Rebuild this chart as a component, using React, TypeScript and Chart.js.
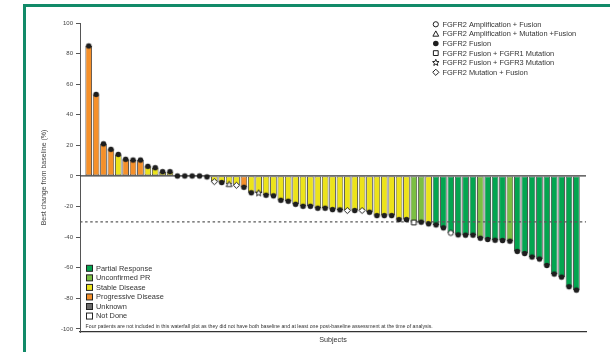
import React, { useEffect, useRef } from 'react';
import { Chart, registerables } from 'chart.js';

Chart.register(...registerables);

const FONT = "'Liberation Sans', Arial, Helvetica, sans-serif";

// Best % change from baseline, one value per subject (sorted waterfall)
const changeValues: number[] = [
  85, 53.3, 21, 17.4, 14.1, 10.9, 10.4, 10.4, 6.3, 5.4, 2.8, 2.8,
  0, 0, 0, 0, -0.6, -3.7, -4.3, -5.4, -6.1, -7.4,
  -11.0, -11.2, -12.6, -13, -15.9, -16.5,
  -18.5, -19.8, -19.8, -21.1, -21.1, -22,
  -22.2, -22.6, -22.6, -22.6,
  -23.7, -25.9, -25.9, -25.9, -28.5, -28.5,
  -30.4, -30.2, -31.3, -32, -33.9, -37.2,
  -38.5, -38.7, -38.7, -40.7, -41.5, -42, -42.2, -42.6,
  -49.3, -50.7, -53, -54.3, -58.5, -64.1, -66.1, -72.4, -74.6,
];

// Best overall response per subject
const responses: string[] = [
  'PD', 'PD', 'PD', 'PD', 'SD', 'PD', 'PD', 'PD', 'SD', 'SD', 'SD', 'SD',
  'SD', 'SD', 'SD', 'SD', 'SD', 'SD', 'SD', 'SD', 'SD', 'PD',
  'SD', 'SD', 'SD', 'SD', 'SD', 'SD',
  'SD', 'SD', 'SD', 'SD', 'SD', 'SD',
  'SD', 'SD', 'SD', 'SD',
  'SD', 'SD', 'SD', 'SD', 'SD', 'SD',
  'uPR', 'uPR', 'SD', 'PR', 'PR', 'PR',
  'PR', 'PR', 'PR', 'uPR', 'PR', 'PR', 'PR', 'uPR',
  'PR', 'PR', 'PR', 'PR', 'PR', 'PR', 'PR', 'PR', 'PR',
];

// FGFR alteration per subject
const alterations: string[] = [
  'F', 'F', 'F', 'F', 'F', 'F', 'F', 'F', 'F', 'F', 'F', 'F',
  'F', 'F', 'F', 'F', 'F', 'MF', 'F', 'AMF', 'MF', 'F',
  'F', 'F3', 'F', 'F', 'F', 'F',
  'F', 'F', 'F', 'F', 'F', 'F',
  'F', 'MF', 'F', 'MF',
  'F', 'F', 'F', 'F', 'F', 'F',
  'F1', 'F', 'F', 'F', 'F', 'AF',
  'F', 'F', 'F', 'F', 'F', 'F', 'F', 'F',
  'F', 'F', 'F', 'F', 'F', 'F', 'F', 'F', 'F',
];

const alterationKeys: string[] = ['AF', 'AMF', 'F', 'F1', 'F3', 'MF'];
const alterationLabels: string[] = [
  'FGFR2 Amplification + Fusion',
  'FGFR2 Amplification + Mutation +Fusion',
  'FGFR2 Fusion',
  'FGFR2 Fusion + FGFR1 Mutation',
  'FGFR2 Fusion + FGFR3 Mutation',
  'FGFR2 Mutation + Fusion',
];

const responseKeys: string[] = ['PR', 'uPR', 'SD', 'PD', 'UNK', 'ND'];
const responseLabels: string[] = [
  'Partial Response',
  'Unconfirmed PR',
  'Stable Disease',
  'Progressive Disease',
  'Unknown',
  'Not Done',
];
const responseColors: Record<string, string> = {
  PR: '#03a550',
  uPR: '#7bbf43',
  SD: '#ece31a',
  PD: '#f5902a',
  UNK: '#6b6b6b',
  ND: '#ffffff',
};

const yTicks: number[] = [100, 80, 60, 40, 20, 0, -20, -40, -60, -80, -100];
const responseThreshold = -30;
const footnote =
  'Four patients are not included in this waterfall plot as they did not have both baseline and at least one post-baseline assessment at the time of analysis.';

const X_MIN = -0.18;
const X_MAX = 68.3;

function drawMarker(ctx: CanvasRenderingContext2D, code: string, x: number, y: number) {
  ctx.save();
  ctx.lineWidth = 1;
  ctx.strokeStyle = '#1e1e1e';
  ctx.fillStyle = '#ffffff';
  ctx.beginPath();
  if (code === 'AF') {
    ctx.arc(x, y, 2.6, 0, Math.PI * 2);
    ctx.fill();
    ctx.stroke();
  } else if (code === 'AMF') {
    ctx.moveTo(x, y - 3);
    ctx.lineTo(x + 2.9, y + 2.3);
    ctx.lineTo(x - 2.9, y + 2.3);
    ctx.closePath();
    ctx.fill();
    ctx.stroke();
  } else if (code === 'F') {
    ctx.fillStyle = '#1e1e1e';
    ctx.arc(x, y, 2.8, 0, Math.PI * 2);
    ctx.fill();
  } else if (code === 'F1') {
    ctx.rect(x - 2.4, y - 2.4, 4.8, 4.8);
    ctx.fill();
    ctx.stroke();
  } else if (code === 'F3') {
    for (let k = 0; k < 10; k++) {
      const r = k % 2 === 0 ? 3.4 : 1.5;
      const a = -Math.PI / 2 + (k * Math.PI) / 5;
      const px = x + r * Math.cos(a);
      const py = y + r * Math.sin(a);
      if (k === 0) ctx.moveTo(px, py);
      else ctx.lineTo(px, py);
    }
    ctx.closePath();
    ctx.fill();
    ctx.stroke();
  } else if (code === 'MF') {
    ctx.moveTo(x, y - 3.1);
    ctx.lineTo(x + 3.1, y);
    ctx.lineTo(x, y + 3.1);
    ctx.lineTo(x - 3.1, y);
    ctx.closePath();
    ctx.fill();
    ctx.stroke();
  }
  ctx.restore();
}

function makeMarkerImage(code: string): HTMLCanvasElement {
  const c = document.createElement('canvas');
  c.width = 9;
  c.height = 9;
  const cctx = c.getContext('2d') as CanvasRenderingContext2D;
  drawMarker(cctx, code, 4.5, 4.5);
  return c;
}

const overlayPlugin = {
  id: 'overlayLegends',
  afterDraw(chart: any) {
    const ctx: CanvasRenderingContext2D = chart.ctx;
    const area = chart.chartArea;
    ctx.save();
    // alteration (marker) legend, top right
    ctx.font = `7.4px ${FONT}`;
    ctx.fillStyle = '#333333';
    ctx.textBaseline = 'middle';
    ctx.textAlign = 'left';
    alterationLabels.forEach((label, i) => {
      const y = area.top + 1.3 + i * 9.6;
      drawMarker(ctx, alterationKeys[i], area.right - 150.2, y);
      ctx.fillText(label, area.right - 143.4, y + 0.4);
    });
    // response legend, bottom left
    responseLabels.forEach((label, i) => {
      const y = area.top + 245.3 + i * 9.55;
      const bx = area.left + 6.5;
      ctx.fillStyle = responseColors[responseKeys[i]];
      ctx.fillRect(bx, y - 3, 6, 6);
      ctx.strokeStyle = '#222222';
      ctx.lineWidth = 1;
      ctx.strokeRect(bx, y - 3, 6, 6);
      ctx.fillStyle = '#333333';
      ctx.fillText(label, area.left + 16, y + 0.4);
    });
    // footnote
    ctx.font = `5.2px ${FONT}`;
    ctx.fillStyle = '#333333';
    ctx.fillText(footnote, area.left + 5.6, area.bottom - 5.4);
    ctx.restore();
  },
};

export default function App() {
  const canvasRef = useRef<HTMLCanvasElement | null>(null);

  useEffect(() => {
    const canvas = canvasRef.current;
    if (!canvas) return;
    Chart.defaults.font.family = FONT;

    const images: Record<string, HTMLCanvasElement> = {};
    alterationKeys.forEach((k) => {
      images[k] = makeMarkerImage(k);
    });

    const points = changeValues.map((v, i) => ({ x: i + 1, y: v }));

    const chart = new Chart(canvas, {
      type: 'bar',
      data: {
        datasets: [
          {
            type: 'scatter',
            label: 'markers',
            data: points,
            pointStyle: alterations.map((a) => images[a]) as any,
            pointRadius: 3,
            order: 0,
          } as any,
          {
            type: 'line',
            label: 'threshold',
            data: [
              { x: X_MIN, y: responseThreshold },
              { x: X_MAX, y: responseThreshold },
            ],
            borderColor: '#5a5a5a',
            borderWidth: 1.3,
            borderDash: [2.5, 2.6],
            pointRadius: 0,
            clip: 0,
            order: 1,
          } as any,
          {
            type: 'line',
            label: 'zero',
            data: [
              { x: X_MIN, y: 0 },
              { x: X_MAX, y: 0 },
            ],
            borderColor: '#3a3a3a',
            borderWidth: 1.2,
            pointRadius: 0,
            clip: 0,
            order: 1,
          } as any,
          {
            type: 'bar',
            label: 'change',
            data: points,
            backgroundColor: responses.map((r) => responseColors[r]),
            borderColor: '#3c3c3c',
            borderWidth: 0.9,
            borderSkipped: false,
            barPercentage: 0.9,
            categoryPercentage: 1,
            order: 2,
          } as any,
        ],
      },
      options: {
        animation: false,
        responsive: false,
        maintainAspectRatio: false,
        devicePixelRatio: 1,
        layout: { padding: { left: 0, right: 24, top: 23, bottom: 0 } },
        plugins: {
          legend: { display: false },
          tooltip: { enabled: false },
          title: { display: false },
        },
        scales: {
          x: {
            type: 'linear',
            min: X_MIN,
            max: X_MAX,
            offset: false,
            afterBuildTicks: (s: any) => {
              s.ticks = points.map((p) => ({ value: p.x }));
            },
            grid: { display: false, offset: false },
            border: { display: true, color: '#333333', width: 1.2 },
            ticks: { display: false },
            title: {
              display: true,
              text: 'Subjects',
              color: '#333333',
              font: { size: 7.2, family: FONT },
              padding: { top: 0, bottom: 7.7 },
            },
            afterFit: (s: any) => {
              s.height = 20;
              s.paddingLeft = 0;
              s.paddingRight = 0;
            },
          },
          y: {
            type: 'linear',
            min: -102,
            max: 100,
            afterBuildTicks: (s: any) => {
              s.ticks = yTicks.map((v) => ({ value: v }));
            },
            ticks: {
              color: '#444444',
              font: { size: 6, family: FONT },
              padding: 3,
              autoSkip: false,
            },
            grid: {
              drawOnChartArea: false,
              drawTicks: true,
              tickLength: 4,
              color: '#555555',
              lineWidth: 1,
            },
            border: { display: true, color: '#555555', width: 1 },
            title: {
              display: true,
              text: 'Best change from baseline (%)',
              color: '#444444',
              font: { size: 7, family: FONT },
              padding: { top: 40.3, bottom: 0 },
            },
            afterFit: (s: any) => {
              s.width = 80;
            },
          },
        },
      } as any,
      plugins: [overlayPlugin],
    });

    return () => {
      chart.destroy();
    };
  }, []);

  return (
    <div
      style={{
        position: 'fixed',
        left: 0,
        top: 0,
        width: 610,
        height: 352,
        background: '#ffffff',
        overflow: 'hidden',
      }}
    >
      <div
        style={{
          position: 'absolute',
          left: 23,
          top: 4,
          width: 700,
          height: 500,
          borderTop: '3px solid #118a68',
          borderLeft: '3px solid #118a68',
        }}
      />
      <canvas
        ref={canvasRef}
        width={610}
        height={352}
        style={{ position: 'absolute', left: 0, top: 0 }}
      />
    </div>
  );
}
